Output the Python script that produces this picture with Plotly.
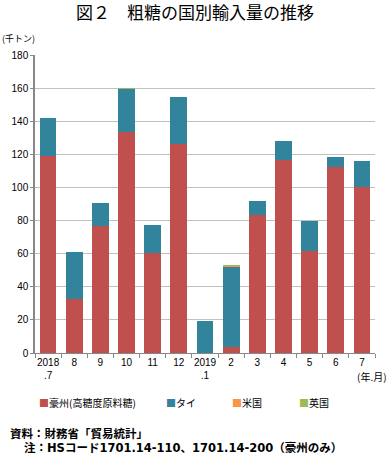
import plotly.graph_objects as go

categories = ["2018<br>.7", "8", "9", "10", "11", "12", "2019<br>.1", "2", "3", "4", "5", "6", "7"]
australia = [119.1, 32.5, 76.8, 133.6, 60.3, 126.2, 0.0, 3.6, 83.3, 116.5, 61.9, 112.1, 100.4]
thailand = [23.0, 28.8, 13.9, 26.0, 17.3, 28.2, 19.3, 48.8, 8.4, 11.7, 17.9, 6.0, 15.7]
usa = [0, 0, 0, 0, 0, 0, 0, 0.3, 0, 0, 0, 0, 0]
uk = [0, 0, 0, 0.4, 0, 0, 0, 0.3, 0, 0, 0, 0, 0]
y_ticks = [0, 20, 40, 60, 80, 100, 120, 140, 160, 180]

series = [
    ("豪州(高糖度原料糖)", australia, "#c0504d"),
    ("タイ", thailand, "#31849b"),
    ("米国", usa, "#f79646"),
    ("英国", uk, "#9bbb59"),
]

FONT = "Liberation Sans, Arial, Noto Sans CJK JP, sans-serif"
JFONT = "Noto Sans CJK JP, sans-serif"
NFONT = "DejaVu Sans, Noto Sans CJK JP, sans-serif"
fig = go.Figure()
for name, vals, col in series:
    fig.add_trace(go.Bar(x=categories, y=vals, name=name, marker=dict(color=col, line=dict(width=0)),
                         showlegend=False))

L, R, T, B = 35, 15, 55, 103
W, H = 390, 456
pw, ph = W - L - R, H - T - B


def px(x):
    return (x - L) / pw


def py(y):
    return (H - B - y) / ph


fig.update_layout(
    barmode="stack",
    bargap=0.36,
    width=W, height=H,
    margin=dict(l=L, r=R, t=T, b=B, autoexpand=False),
    paper_bgcolor="white", plot_bgcolor="white",
    font=dict(family=FONT, size=10, color="#000"),
    title=dict(text="図２　粗糖の国別輸入量の推移", x=0.5, xanchor="center", y=1 - 13 / H, yanchor="middle",
               font=dict(size=17, family=JFONT, color="#000")),
    xaxis=dict(showline=True, linecolor="#888", linewidth=1, ticks="outside", ticklen=4,
               tickcolor="#888", tickson="boundaries", tickfont=dict(size=10), tickangle=0,
               fixedrange=True, automargin=False),
    yaxis=dict(range=[0, 180], tickvals=y_ticks, showline=True, linecolor="#888", linewidth=1.5,
               ticks="outside", ticklen=3, tickcolor="#888", showgrid=True, gridcolor="#c0c0c0",
               gridwidth=1, tickfont=dict(size=10), zeroline=False, automargin=False),
)

annotations = [
    dict(text="(千トン)", xref="paper", yref="paper", x=px(0), y=py(38), xanchor="left", yanchor="middle",
         showarrow=False, font=dict(size=9, family=JFONT)),
    dict(text="(年.月)", xref="paper", yref="paper", x=px(389), y=py(377), xanchor="right", yanchor="middle",
         showarrow=False, font=dict(size=10, family=JFONT)),
    dict(text="<b>資料：財務省「貿易統計」</b>", xref="paper", yref="paper", x=px(8), y=py(432.5),
         xanchor="left", yanchor="middle", showarrow=False, font=dict(size=11.5, family=JFONT)),
    dict(text="<b>注：HSコード1701.14-110、1701.14-200（豪州のみ）</b>", xref="paper", yref="paper",
         x=px(22), y=py(448), xanchor="left", yanchor="middle", showarrow=False,
         font=dict(size=11.5, family=NFONT)),
]
legend_x = [37, 164, 230, 297]
for (name, vals, col), lx in zip(series, legend_x):
    annotations.append(dict(text=f"<span style='color:{col}'>■</span>{name}", xref="paper", yref="paper",
                            x=px(lx), y=py(402), xanchor="left", yanchor="middle",
                            showarrow=False, font=dict(size=10, family=JFONT)))
fig.update_layout(annotations=annotations)

fig.write_html("out.html", config={"displayModeBar": False},
               post_script="document.body.style.margin='0';document.body.style.overflow='hidden';")
